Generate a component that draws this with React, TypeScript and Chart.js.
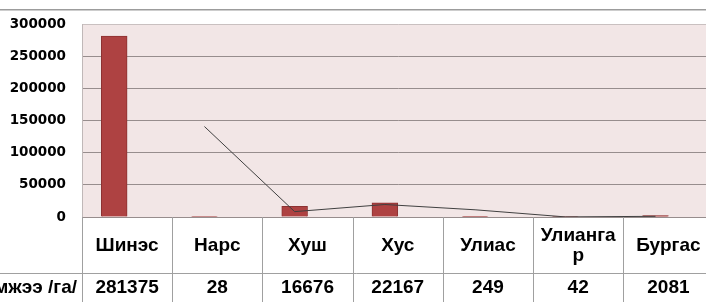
import React, { useEffect, useRef } from 'react';
import { Chart, registerables } from 'chart.js';

Chart.register(...registerables);

// ---- data ----
const categories = ['Шинэс', 'Нарс', 'Хуш', 'Хус', 'Улиас', 'Улиангар', 'Бургас'];
const areaValues = [281375, 28, 16676, 22167, 249, 42, 2081];
// trend line (2-period moving average)
const trendValues: (number | null)[] = [null, 140700, 8350, 19420, 11210, 150, 1060];
const rowLabel = 'Хэмжээ /га/';
const yMin = 0;
const yMax = 300000;
const yStep = 50000;

// ---- layout / style constants ----
const CANVAS_W = 714;
const CANVAS_H = 302;
const CAT_PCT = 4 / 7; // two bar slots per category, 150% gap (second slot empty)
const BAR_FILL = '#AE4242';
const BAR_BORDER = '#8C3232';
const PLOT_BG = '#F2E6E6';
const GRID = '#978D8D';
const TABLE_LINE = '#A0A0A0';
const TABLE_FONT = 'bold 19px "Liberation Sans", Arial, sans-serif';

const hiddenAxis = {
  display: true,
  offset: false,
  ticks: { display: false },
  grid: { display: false, drawTicks: false, offset: false },
  border: { display: false },
};

const tablePlugin = {
  id: 'tablePlugin',
  beforeDraw(chart: any) {
    const { ctx, chartArea: a, width, height } = chart;
    ctx.save();
    ctx.fillStyle = '#ffffff';
    ctx.fillRect(0, 0, width, height);
    ctx.fillStyle = PLOT_BG;
    ctx.fillRect(a.left, a.top, a.right - a.left, a.bottom - a.top);
    ctx.strokeStyle = '#9C9C9C';
    ctx.lineWidth = 1.5;
    ctx.beginPath();
    ctx.moveTo(0, 9.75);
    ctx.lineTo(width, 9.75);
    ctx.stroke();
    ctx.restore();
  },
  afterDraw(chart: any) {
    const { ctx, chartArea: a, height } = chart;
    const xs = chart.scales.xl;
    const n = categories.length;
    const split = a.bottom + 56;
    ctx.save();
    // axis line
    ctx.strokeStyle = GRID;
    ctx.lineWidth = 1;
    ctx.beginPath();
    ctx.moveTo(a.left, a.bottom + 0.5);
    ctx.lineTo(a.right, a.bottom + 0.5);
    ctx.stroke();
    // table lines
    ctx.strokeStyle = TABLE_LINE;
    ctx.beginPath();
    for (let i = 0; i <= n; i++) {
      const x = Math.round(xs.getPixelForValue(i - 0.5)) + 0.5;
      ctx.moveTo(x, a.bottom);
      ctx.lineTo(x, height);
    }
    ctx.moveTo(0, split + 0.5);
    ctx.lineTo(a.right, split + 0.5);
    ctx.stroke();
    // texts
    ctx.fillStyle = '#000';
    ctx.font = TABLE_FONT;
    ctx.textAlign = 'center';
    ctx.textBaseline = 'middle';
    const W = xs.getPixelForValue(1) - xs.getPixelForValue(0);
    const maxW = W - 10;
    categories.forEach((c, i) => {
      const cx = xs.getPixelForValue(i);
      const lines: string[] = [];
      let cur = '';
      for (const ch of c) {
        if (cur && ctx.measureText(cur + ch).width > maxW) {
          lines.push(cur);
          cur = ch;
        } else cur += ch;
      }
      lines.push(cur);
      const lh = 20;
      const cy = a.bottom + 29;
      lines.forEach((l, k) => {
        ctx.fillText(l, cx, cy + (k - (lines.length - 1) / 2) * lh);
      });
      ctx.fillText(String(areaValues[i]), cx, split + 15);
    });
    ctx.textAlign = 'right';
    ctx.fillText(rowLabel, a.left - 5, split + 15);
    ctx.restore();
  },
};

export default function App() {
  const ref = useRef<HTMLCanvasElement | null>(null);
  useEffect(() => {
    if (!ref.current) return;
    // first bar slot centre, relative to category centre (in category units)
    const slotOffset = -CAT_PCT / 4;
    const chart = new Chart(ref.current, {
      type: 'bar',
      data: {
        labels: categories,
        datasets: [
          {
            type: 'line',
            label: 'trend',
            xAxisID: 'xl',
            data: trendValues
              .map((v, i) => (v === null ? null : { x: i + slotOffset, y: v }))
              .filter((p) => p !== null) as any,
            borderColor: '#404040',
            borderWidth: 1,
            pointRadius: 0,
            tension: 0,
            fill: false,
            order: 0,
          } as any,
          {
            type: 'bar',
            label: rowLabel,
            xAxisID: 'xl',
            data: areaValues.map((v, i) => ({ x: i + slotOffset, y: v })) as any,
            backgroundColor: BAR_FILL,
            borderColor: BAR_BORDER,
            borderWidth: 1,
            barThickness: 20,
            order: 1,
          } as any,
        ],
      },
      options: {
        responsive: false,
        animation: false,
        devicePixelRatio: 1,
        layout: { padding: { top: 21, bottom: 85, left: 0, right: 0 } },
        plugins: { legend: { display: false }, tooltip: { enabled: false } },
        scales: {
          x: { type: 'category', position: 'bottom', ...hiddenAxis },
          xl: {
            type: 'linear',
            position: 'bottom',
            min: -0.5,
            max: categories.length - 0.5,
            ...hiddenAxis,
          },
          y: {
            min: yMin,
            max: yMax,
            ticks: {
              stepSize: yStep,
              padding: 16,
              color: '#000',
              font: { family: '"DejaVu Sans", Verdana, sans-serif', weight: 'bold', size: 13.5 },
              callback: (v: any) => String(v),
            },
            grid: {
              drawTicks: false,
              color: (ctx: any) => (ctx.tick && ctx.tick.value === yMax ? '#C9C0C0' : GRID),
              lineWidth: 1,
            },
            border: { display: true, color: '#C0B8B8' },
            afterFit: (scale: any) => {
              scale.width = 82;
            },
          },
        },
      } as any,
      plugins: [tablePlugin],
    });
    // bar width = one of two slots in the category group
    const xs: any = chart.scales.xl;
    const W = xs.getPixelForValue(1) - xs.getPixelForValue(0);
    (chart.data.datasets[1] as any).barThickness = (W * CAT_PCT) / 2;
    chart.update();
    return () => chart.destroy();
  }, []);
  return (
    <div style={{ position: 'fixed', left: 0, top: 0, width: CANVAS_W, height: CANVAS_H, overflow: 'hidden', background: '#fff' }}>
      <canvas ref={ref} width={CANVAS_W} height={CANVAS_H} style={{ display: 'block' }} />
    </div>
  );
}
